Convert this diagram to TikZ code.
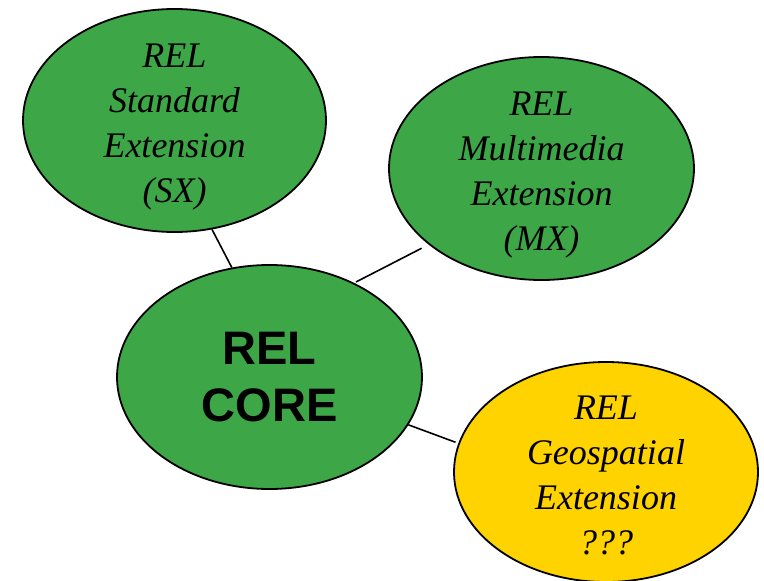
\documentclass[tikz,border=0pt]{standalone}
\usepackage{fontspec}
\setmainfont{Liberation Serif}
\setsansfont{Liberation Sans}
\usetikzlibrary{shapes.geometric}
\definecolor{relgreen}{RGB}{61,167,71}
\definecolor{relyellow}{RGB}{255,211,0}
\tikzset{
	bubble/.style={ellipse, draw=black, line width=1.8pt, inner sep=0pt},
	exttext/.style={align=center, font=\fontsize{36}{45}\selectfont\itshape},
	coretext/.style={align=center, font=\fontsize{47}{57}\selectfont\sffamily\bfseries},
	link/.style={line width=1.6pt}
}
\begin{document}
\begin{tikzpicture}[x=1pt,y=-1pt]
		
		\useasboundingbox (0,0) rectangle (764,581);
		
		\node[bubble, fill=relgreen, minimum width=303pt, minimum height=223pt] (sx) at (174.5,120.5) {};
		\node[bubble, fill=relgreen, minimum width=305pt, minimum height=223pt] (mx) at (541.5,168.5) {};
		\node[bubble, fill=relgreen, minimum width=305pt, minimum height=224pt] (core) at (269.5,377) {};
		\node[bubble, fill=relyellow, minimum width=304pt, minimum height=220pt] (geo) at (606,472) {};
		
		\node[exttext] (sxtext) at ([yshift=-7pt]sx.center) {REL\\Standard\\Extension\\(SX)};
		\node[exttext] (mxtext) at ([yshift=-7pt]mx.center) {REL\\Multimedia\\Extension\\(MX)};
		\node[exttext] (geotext) at ([yshift=-3pt]geo.center) {REL\\Geospatial\\Extension\\???};
		\node[coretext] (coretxt) at (core.center) {REL\\CORE};
		
		\draw[link] (sx.-71) -- (core.109);
		\draw[link, shorten <=2pt, shorten >=8pt] (core.48) -- (mx.-146);
		\draw[link, shorten >=3pt] (core.-19) -- (geo.169);
		\end{tikzpicture}
\end{document}
